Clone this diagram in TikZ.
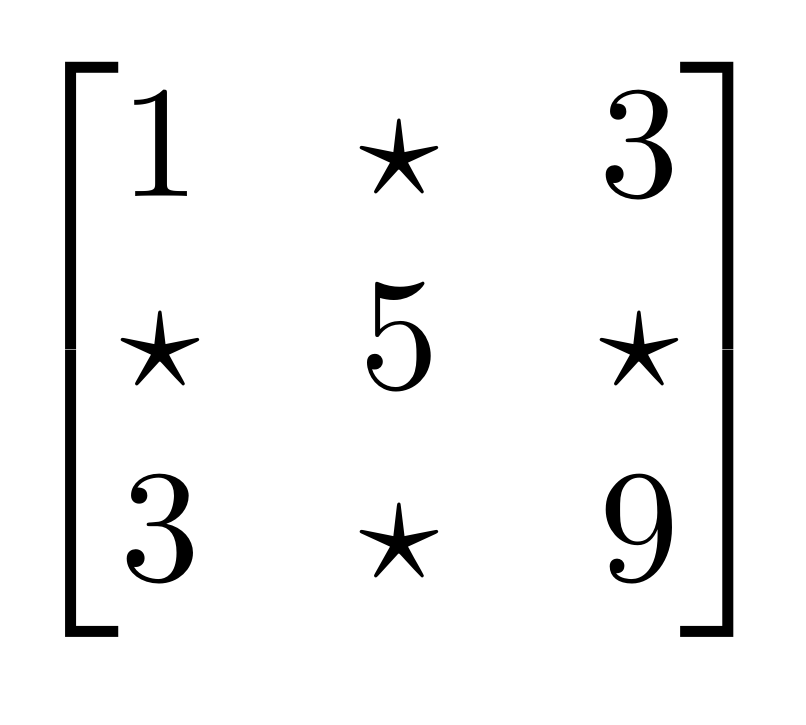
\documentclass[tikz,border=0pt]{standalone}
\usepackage{amssymb}
\usepackage{amsmath}

\begin{document}
\begin{tikzpicture}
\node (mat) [inner sep=0pt] {
$\begin{bmatrix}
 1     & \star & 3     \\
 \star & 5     & \star \\
 3     & \star & 9     \\
\end{bmatrix}$
};
\useasboundingbox ([shift={(-25.02pt,-23.42pt)}]mat.center) rectangle ([shift={(25.45pt,21.92pt)}]mat.center);
\end{tikzpicture}
\end{document}
